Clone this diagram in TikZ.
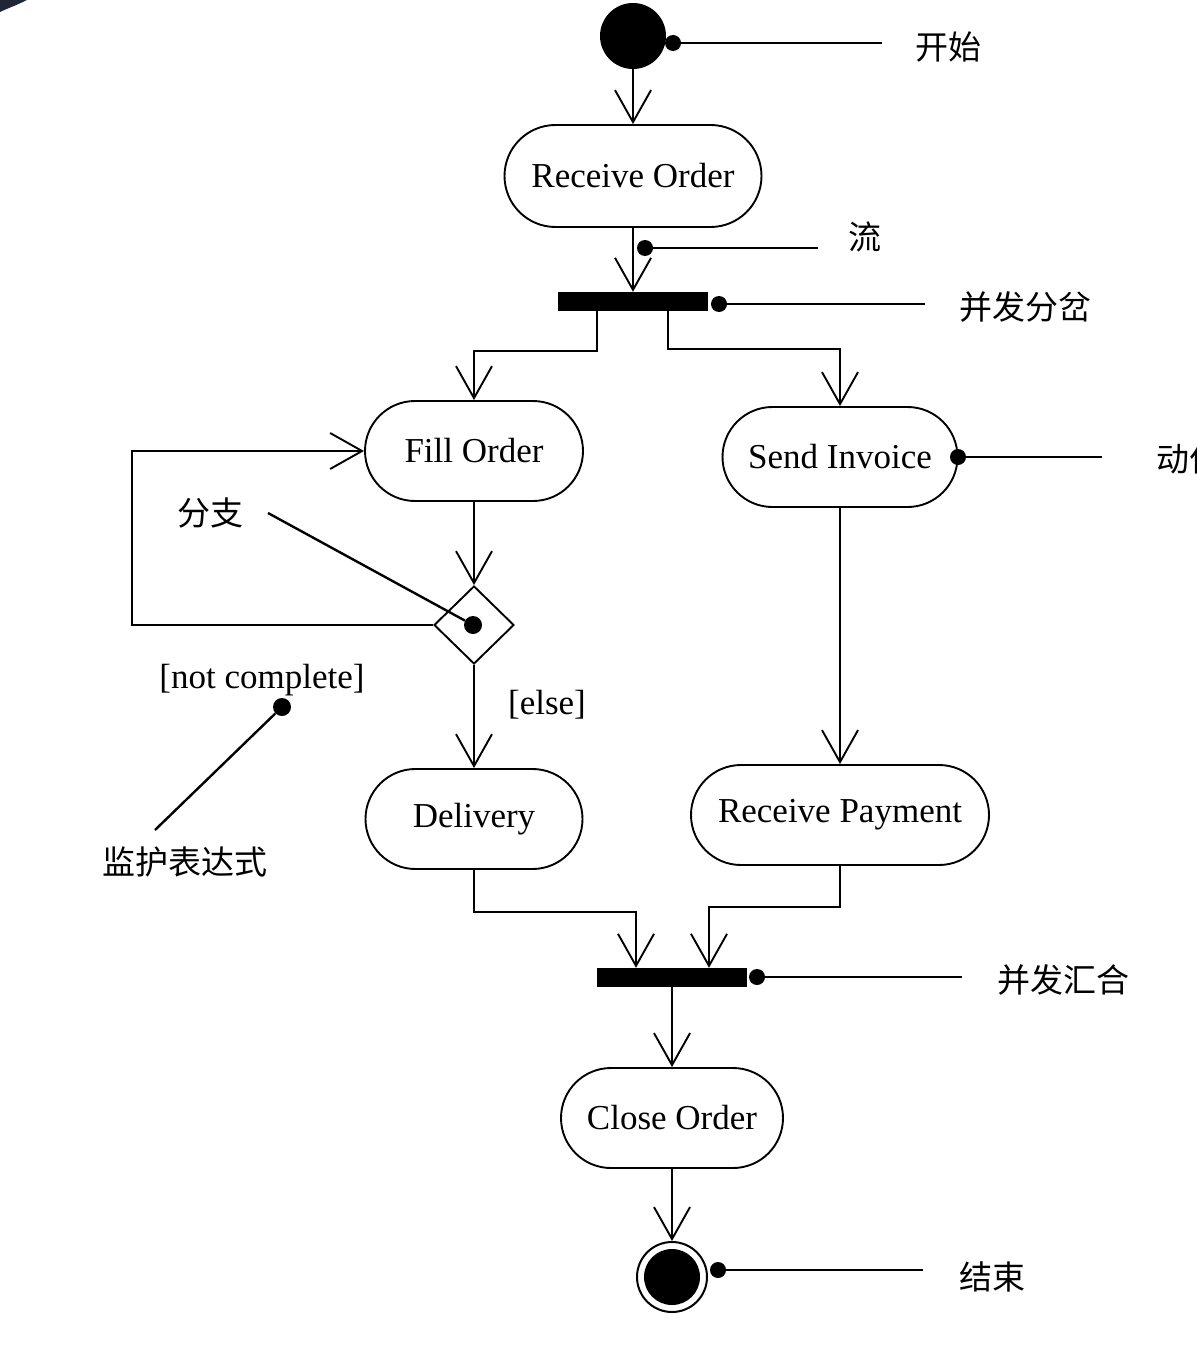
\documentclass[tikz,border=0pt]{standalone}
\usepackage{fontspec}
\setmainfont{Liberation Serif}
\newfontfamily\cjk{Noto Sans CJK SC}
\usetikzlibrary{arrows.meta,shapes.misc,shapes.geometric}
\definecolor{cornerink}{RGB}{32,38,54}
\tikzset{
  act/.style={rounded rectangle, draw, line width=1.9pt, minimum height=100pt, inner sep=0pt, fill=white,
    font=\fontsize{35}{42}\selectfont},
  syncbar/.style={fill=black, minimum width=150pt, minimum height=19pt, inner sep=0pt},
  andot/.style={circle, fill=black, minimum size=16pt, inner sep=0pt},
  flow/.style={draw, line width=1.9pt, -{Straight Barb[length=32pt,width=36pt]}},
  annot/.style={draw, line width=2.4pt},
  cjklab/.style={font=\cjk\fontsize{33}{40}\selectfont, inner sep=0pt},
  enlab/.style={font=\fontsize{35}{42}\selectfont, inner sep=0pt}
}
\begin{document}
\begin{tikzpicture}[x=1pt,y=-1pt]
\useasboundingbox (0,0) rectangle (1196,1348);
% scan artifact in corner
\fill[cornerink] (0,0) -- (27,0) .. controls (15,6) and (6,9) .. (0,12) -- cycle;

% nodes
\node[circle, fill=black, minimum size=66pt, inner sep=0pt] (start) at (633,36) {};
\node[act, minimum width=257pt, minimum height=102pt] (ro) at (633,176) {Receive Order};
\node[syncbar] (fork) at (633,301.5) {};
\node[act, minimum width=218pt] (fo) at (474,451) {Fill Order};
\node[act, minimum width=235pt] (si) at (840,457) {Send Invoice};
\node[diamond, draw, line width=1.9pt, minimum width=80pt, minimum height=78pt, inner sep=0pt, fill=white] (dec) at (474,625) {};
\node[act, minimum width=217pt] (dl) at (474,819) {Delivery};
\node[act, minimum width=298pt] (rp) at (840,815) {Receive Payment};
\node[syncbar] (join) at (672,977.5) {};
\node[act, minimum width=222pt] (co) at (672,1118) {Close Order};
\node[circle, draw, line width=2pt, minimum size=70pt, inner sep=0pt] (fin) at (672,1277) {};
\node[circle, fill=black, minimum size=56pt, inner sep=0pt] (fincore) at (fin.center) {};

% flows
\draw[flow] (start) -- (ro);
\draw[flow] (ro) -- (fork);
\draw[flow] ([xshift=-36pt]fork.south) -- ++(0,40) -| (fo.north);
\draw[flow] ([xshift=35pt]fork.south) -- ++(0,38) -| (si.north);
\draw[flow] (fo) -- (dec);
\coordinate (loopc) at (132,625);
\draw[flow] (dec.west) -- (loopc) |- (fo.west);
\draw[flow] (dec) -- (dl);
\draw[flow] (si) -- (rp);
\draw[flow] (dl.south) -- ++(0,42) -| ([xshift=-36pt]join.north);
\draw[flow] (rp.south) -- ++(0,41) -| ([xshift=37pt]join.north);
\draw[flow] (join) -- (co);
\draw[flow] (co) -- (fin);

% guard labels
\node[enlab] (gnc) at (262,680) {[not complete]};
\node[enlab] (gel) at (547,705) {[else]};

% annotations
\node[andot] (a1) at (673,43) {};
\coordinate (a1e) at (882,43);
\draw[annot] (a1) -- (a1e);
\node[cjklab] (l1) at (948,47) {开始};

\node[andot] (a2) at (645,248) {};
\coordinate (a2e) at (818,248);
\draw[annot] (a2) -- (a2e);
\node[cjklab] (l2) at (865,237) {流};

\node[andot] (a3) at (719,304) {};
\coordinate (a3e) at (925,304);
\draw[annot] (a3) -- (a3e);
\node[cjklab] (l3) at (1025,307) {并发分岔};

\node[andot] (a4) at (958,457) {};
\coordinate (a4e) at (1102,457);
\draw[annot] (a4) -- (a4e);
\node[cjklab, anchor=west] (l4) at (1156,459) {动作};

\node[andot, minimum size=18pt] (a5) at (473,625) {};
\coordinate (a5e) at (268,513);
\draw[annot] (a5) -- (a5e);
\node[cjklab] (l5) at (210,513) {分支};

\node[andot, minimum size=18pt] (a6) at (282,707) {};
\coordinate (a6e) at (155,830);
\draw[annot] (a6) -- (a6e);
\node[cjklab] (l6) at (185,862) {监护表达式};

\node[andot] (a7) at (757,977) {};
\coordinate (a7e) at (962,977);
\draw[annot] (a7) -- (a7e);
\node[cjklab] (l7) at (1063,980) {并发汇合};

\node[andot] (a8) at (718,1270) {};
\coordinate (a8e) at (923,1270);
\draw[annot] (a8) -- (a8e);
\node[cjklab] (l8) at (992,1277) {结束};
\end{tikzpicture}
\end{document}
